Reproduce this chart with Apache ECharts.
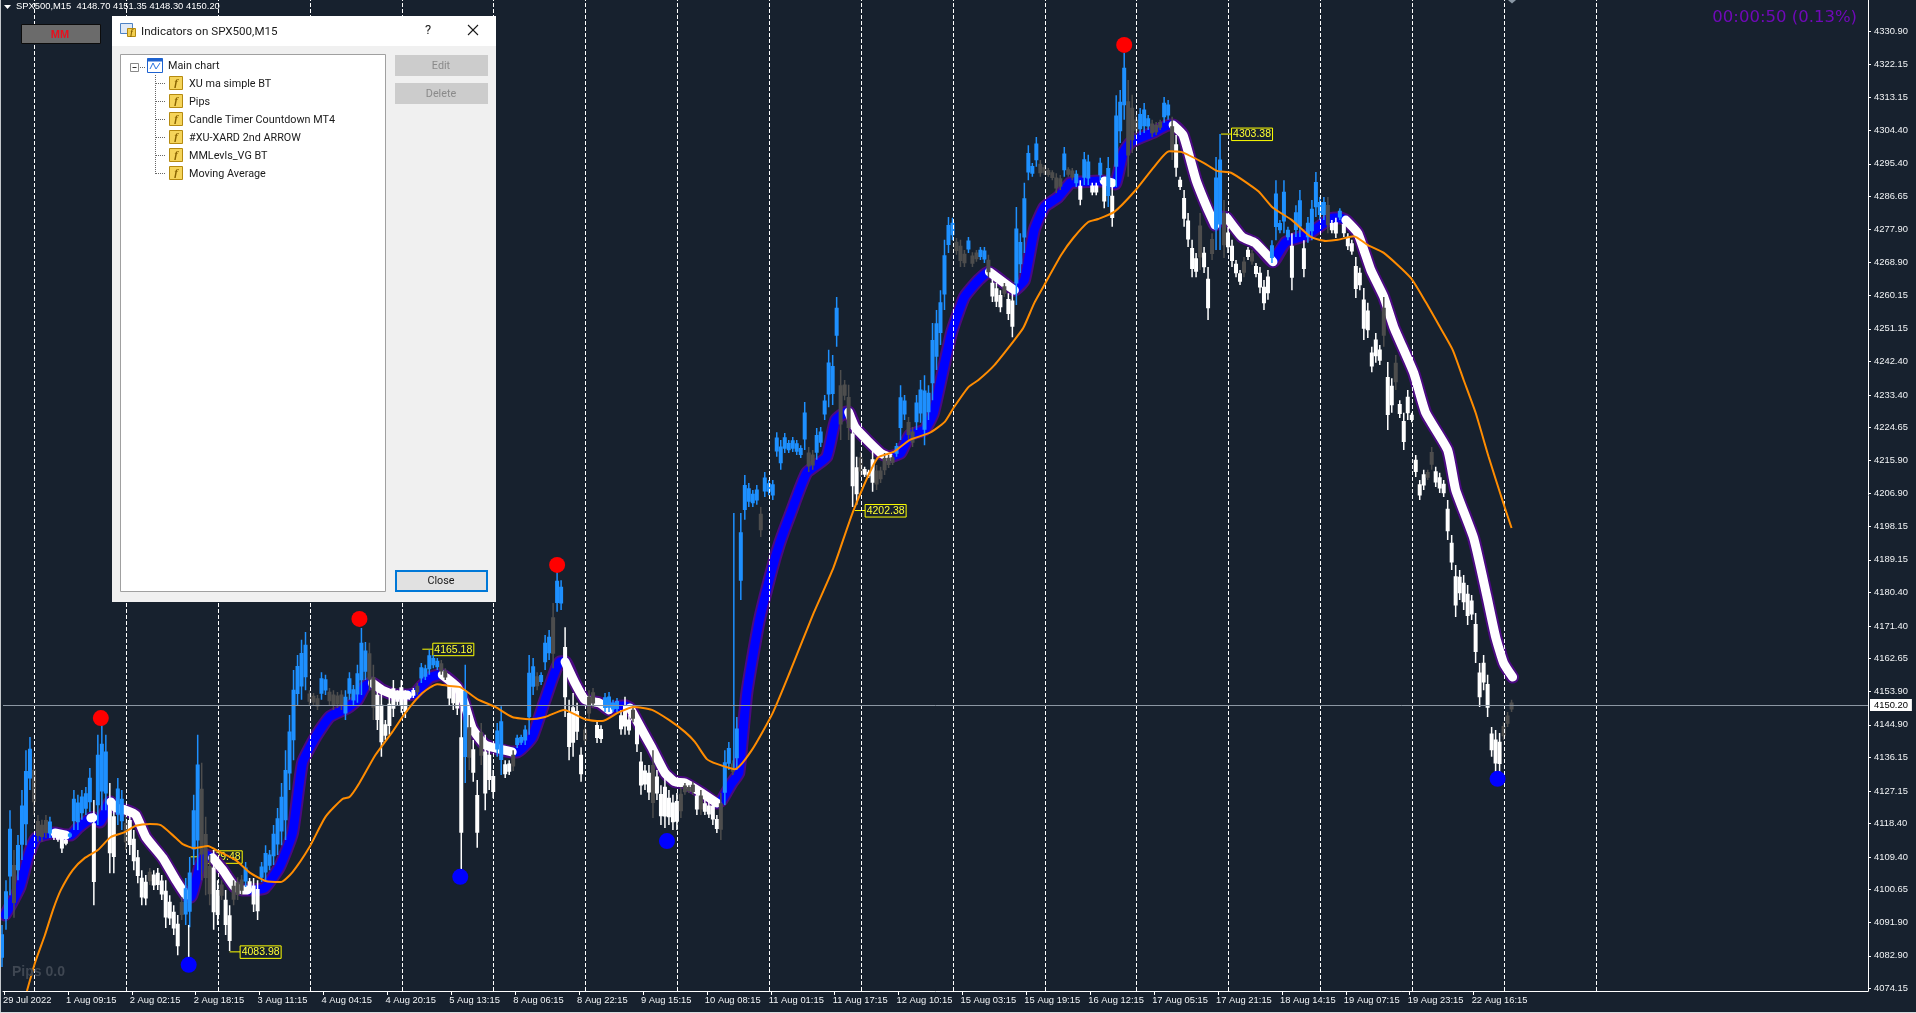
<!DOCTYPE html>
<html>
<head>
<meta charset="utf-8">
<script src="https://cdn.jsdelivr.net/npm/echarts@6/dist/echarts.min.js"></script>
<style>html,body{margin:0;padding:0;background:#17212e}#c{width:1916px;height:1013px}</style>
</head>
<body>
<div id="c"></div>
<script>
const xLabels = ['29 Jul 2022','1 Aug 09:15','2 Aug 02:15','2 Aug 18:15','3 Aug 11:15','4 Aug 04:15','4 Aug 20:15','5 Aug 13:15','8 Aug 06:15','8 Aug 22:15','9 Aug 15:15','10 Aug 08:15','11 Aug 01:15','11 Aug 17:15','12 Aug 10:15','15 Aug 03:15','15 Aug 19:15','16 Aug 12:15','17 Aug 05:15','17 Aug 21:15','18 Aug 14:15','19 Aug 07:15','19 Aug 23:15','22 Aug 16:15'];
const yTicks = [4330.90,4322.15,4313.15,4304.40,4295.40,4286.65,4277.90,4268.90,4260.15,4251.15,4242.40,4233.40,4224.65,4215.90,4206.90,4198.15,4189.15,4180.40,4171.40,4162.65,4153.90,4144.90,4136.15,4127.15,4118.40,4109.40,4100.65,4091.90,4082.90,4074.15];
const lastPrice = 4150.20;
const separatorBars = [31.5,123.5,215.5,307.5,399.5,491.5,583.5,675.5,767.5,859.5,951.5,1043.5,1135.5,1227.5,1319.5,1411.5,1503.5,1595.5];

const candleTone = ['bbbgbbbbgg','ggbwwwwbbb','bbbwbbbwwb','bgwwwwwgww','wwwwwgbbbb','gggwwgwwgg','gbwwwbbbbb','bbbbbbbggg','bbggggbbbb','bbggwwwwww','wwwwgbbbbb','ggwwwwbgww','gwwwbbwwgb','bbbbgbbbgb','bwwwwwgggw','wbbbbwwwgw','wwwgwwwwww','ggggwgwwww','gbbgbbbbbb','gbbbbbbbbb','bbggbbbbbb','gggwwgwwwg','ggggbbbggb','bbbbbbbbbg','ggbggbbgww','wgwwbbbbbb','ggggggbggb','wbbwwbwbwb','bbgggbbbgg','gbbgwwwwww','gwwgbbgwww','wgwgwwwwbb','bbbwbbwbbb','bbgwwbwwww','wwwwwwgwwg','wwwwwwwggw','wwwwwwwwww','wwwwwwggg'].join('');
const candleHigh = [
4091.2,4103.2,4122.0,4111.3,4115.3,4127.4,4138.1,4141.6,4136.3,4120.7,
4119.4,4120.7,4120.2,4116.7,4116.1,4115.9,4114.5,4116.1,4127.4,4126.1,
4127.4,4128.2,4133.3,4124.7,4142.2,4144.8,4142.2,4129.3,4124.7,4130.6,
4127.4,4120.7,4122.0,4116.7,4111.3,4105.9,4104.6,4106.5,4105.9,4106.5,
4104.6,4103.2,4099.2,4096.5,4093.9,4098.7,4103.8,4109.4,4126.1,4142.2,
4134.7,4120.2,4110.0,4111.3,4103.2,4103.2,4100.6,4096.5,4103.2,4104.0,
4104.6,4108.1,4103.8,4103.8,4103.2,4108.1,4112.6,4111.3,4118.0,4122.6,
4129.3,4138.1,4147.5,4159.6,4163.6,4167.7,4169.8,4154.2,4153.4,4152.9,
4159.0,4158.3,4154.8,4154.2,4153.7,4154.2,4154.2,4159.0,4155.6,4161.0,
4170.9,4167.1,4166.9,4161.0,4155.6,4154.2,4146.2,4152.9,4156.9,4154.2,
4156.9,4154.2,4153.7,4154.8,4156.1,4161.5,4161.0,4165.0,4163.6,4162.8,
4162.3,4160.1,4158.3,4156.9,4155.6,4151.6,4161.0,4147.5,4140.8,4130.1,
4145.4,4142.2,4139.5,4132.8,4145.4,4149.9,4135.4,4135.4,4138.1,4142.2,
4142.2,4144.8,4163.6,4162.8,4159.0,4159.0,4169.0,4170.3,4177.6,4185.9,
4183.7,4171.1,4151.6,4153.4,4150.8,4138.9,4144.8,4154.2,4154.8,4146.2,
4144.8,4153.4,4153.7,4151.6,4152.1,4148.9,4152.4,4147.5,4149.9,4147.0,
4137.6,4134.1,4134.1,4138.1,4132.8,4128.7,4131.4,4127.4,4126.1,4126.6,
4128.2,4129.3,4128.7,4129.6,4127.4,4127.4,4124.7,4124.2,4124.7,4120.7,
4126.6,4138.1,4140.3,4135.4,4147.0,4201.7,4211.9,4209.8,4207.9,4209.2,
4203.3,4212.7,4210.6,4210.6,4223.4,4221.3,4223.2,4221.3,4222.1,4221.3,
4219.9,4231.5,4219.4,4218.6,4224.5,4224.8,4233.4,4245.5,4244.1,4259.7,
4240.1,4237.4,4236.1,4228.6,4216.8,4218.1,4214.1,4213.3,4218.6,4214.6,
4214.1,4217.8,4217.3,4217.3,4220.5,4236.0,4233.4,4227.5,4224.8,4233.4,
4237.4,4238.7,4236.0,4252.7,4256.2,4261.5,4275.0,4281.1,4280.9,4275.5,
4275.0,4272.3,4275.8,4271.7,4272.3,4273.1,4273.1,4271.0,4265.0,4263.4,
4261.5,4263.4,4260.7,4261.5,4283.8,4276.8,4290.3,4300.4,4295.6,4302.6,
4296.4,4295.1,4294.3,4293.7,4292.9,4292.4,4299.9,4294.5,4294.3,4293.7,
4291.0,4298.6,4297.8,4290.3,4290.3,4297.0,4291.6,4297.2,4289.2,4313.8,
4315.2,4325.1,4317.9,4313.9,4308.5,4310.4,4311.7,4308.5,4307.2,4306.6,
4307.2,4313.3,4312.5,4308.0,4303.1,4291.9,4288.4,4282.2,4275.0,4271.5,
4282.2,4273.1,4267.7,4276.8,4297.2,4303.4,4285.7,4278.5,4275.0,4269.6,
4266.9,4270.4,4273.1,4272.3,4268.8,4267.7,4264.2,4266.9,4274.9,4291.0,
4280.3,4291.0,4278.5,4276.8,4284.3,4288.4,4274.9,4281.1,4285.7,4293.2,
4286.5,4286.5,4286.5,4280.3,4280.9,4283.5,4280.3,4276.8,4275.0,4270.4,
4267.5,4262.1,4258.1,4246.3,4250.0,4246.8,4259.7,4242.2,4237.9,4244.1,
4232.0,4228.6,4234.7,4228.6,4217.3,4210.6,4213.3,4213.3,4219.4,4214.1,
4212.5,4210.6,4205.2,4195.8,4187.8,4186.4,4185.1,4182.4,4179.7,4174.9,
4161.5,4163.6,4158.3,4144.3,4143.5,4142.7,4145.6,4148.3,4151.6];
const candleLow = [
4079.9,4089.9,4099.2,4093.1,4103.2,4108.6,4112.6,4127.4,4120.7,4113.5,
4113.5,4114.5,4114.5,4114.0,4113.5,4110.5,4112.6,4114.5,4116.7,4116.7,
4119.4,4120.7,4121.5,4096.5,4118.0,4122.0,4122.0,4105.1,4105.1,4118.0,
4116.7,4111.3,4110.0,4105.9,4102.4,4096.5,4096.5,4101.9,4100.6,4100.6,
4097.9,4090.4,4091.2,4088.5,4083.1,4092.5,4091.2,4090.6,4107.3,4105.9,
4103.2,4099.2,4096.5,4089.9,4091.2,4097.9,4088.5,4084.2,4096.5,4097.9,
4099.2,4101.4,4099.8,4094.7,4092.5,4102.7,4103.2,4105.9,4107.3,4110.0,
4112.6,4114.0,4127.4,4135.4,4150.2,4151.6,4154.2,4150.2,4150.2,4148.9,
4151.6,4152.9,4150.2,4148.9,4149.4,4148.9,4146.2,4151.6,4150.2,4150.8,
4152.9,4156.9,4154.2,4146.2,4143.5,4136.3,4140.8,4142.2,4147.0,4150.2,
4148.1,4146.7,4151.6,4152.1,4152.9,4156.1,4156.9,4158.3,4160.1,4159.6,
4158.3,4156.9,4150.2,4148.9,4147.5,4105.9,4129.3,4132.8,4129.6,4111.9,
4134.1,4122.0,4127.4,4125.2,4136.3,4131.4,4130.6,4131.4,4132.5,4138.7,
4139.5,4139.5,4142.2,4152.9,4154.2,4155.6,4159.6,4162.3,4160.1,4175.2,
4175.7,4147.0,4135.4,4136.3,4140.8,4129.6,4139.5,4146.2,4149.4,4140.0,
4140.0,4148.3,4148.3,4148.3,4148.3,4142.2,4142.2,4142.2,4145.6,4137.6,
4126.1,4127.4,4124.7,4119.9,4124.7,4118.0,4117.2,4118.0,4116.7,4116.7,
4119.9,4126.1,4126.6,4126.1,4120.7,4120.7,4120.7,4119.9,4118.0,4115.9,
4114.0,4123.4,4132.8,4131.4,4132.8,4178.4,4199.9,4203.3,4203.3,4203.9,
4195.3,4206.0,4206.5,4205.2,4216.8,4213.3,4217.8,4217.8,4218.1,4217.3,
4216.5,4218.6,4212.7,4213.3,4216.0,4219.4,4226.7,4230.1,4230.7,4246.3,
4221.3,4232.0,4221.3,4203.3,4203.9,4211.4,4211.4,4211.1,4207.4,4207.9,
4209.8,4211.9,4213.8,4214.6,4216.8,4221.3,4226.7,4221.3,4219.4,4224.0,
4225.9,4219.9,4226.7,4232.0,4240.1,4246.8,4256.2,4271.5,4274.9,4271.0,
4267.7,4267.7,4271.5,4267.7,4269.1,4269.6,4268.8,4265.0,4258.3,4257.0,
4255.6,4259.7,4253.5,4248.9,4257.5,4266.1,4271.5,4291.0,4291.9,4294.6,
4291.9,4292.4,4291.9,4291.0,4287.6,4288.4,4291.9,4291.9,4291.0,4289.2,
4284.3,4289.7,4289.7,4287.0,4287.0,4291.0,4283.5,4283.8,4278.5,4289.2,
4301.0,4307.2,4291.9,4298.3,4303.1,4303.1,4303.7,4304.5,4302.6,4303.1,
4304.5,4306.4,4307.2,4296.4,4291.9,4288.4,4278.5,4273.1,4265.0,4265.0,
4266.9,4266.1,4253.5,4269.6,4272.3,4272.3,4270.1,4271.5,4267.7,4265.0,
4262.9,4265.0,4269.6,4268.3,4265.0,4260.7,4256.2,4258.9,4268.8,4274.9,
4276.8,4276.8,4274.9,4261.5,4275.8,4275.8,4265.0,4274.2,4274.9,4281.1,
4280.3,4280.3,4276.8,4276.8,4275.5,4280.3,4275.8,4272.3,4271.0,4259.4,
4261.5,4248.1,4248.7,4239.5,4242.0,4241.4,4246.3,4224.0,4228.6,4234.7,
4227.2,4218.6,4226.7,4226.1,4211.4,4205.2,4207.9,4210.6,4213.3,4208.7,
4207.1,4206.0,4194.5,4186.4,4173.8,4178.4,4175.7,4171.7,4173.0,4161.5,
4149.7,4154.2,4147.0,4136.3,4132.0,4132.0,4140.8,4144.3,4148.3];
const spikeBars = [186,732];
const spikeHigh = [4091.2,4201.7];
const spikeLow = [4080.5,4133.3];
const spikeTone = 'wb';

const fastBars = [2,5,17,25,33,50,52,63,68,75,88,90,97,107,108,113,123,133,143,160,173,183,188,197,203,210,220,232,240,245,248,262,277,290,300,313,327,345,355,362,368,370,380,393,405,413,427,437,440,455,462,470,483,510,515,530,543,558,563,573,583,597,607,610,623,628,640,650,663,673,683,700,715,720,730,737,745,757,770,778,789,805,825,834,845,847,854,879,887,899,908,923,932,950,963,977,987,988,1003,1013,1023,1033,1043,1057,1069,1078,1100,1103,1111,1114,1122,1130,1151,1168,1172,1182,1195,1207,1214,1220,1226,1241,1254,1272,1285,1306,1318,1329,1339,1345,1357,1370,1383,1393,1413,1425,1447,1455,1473,1486,1495,1503,1512];
const fastPrice = [4093.9,4095.2,4101.4,4109.4,4114.5,4115.9,4115.9,4115.3,4115.3,4117.2,4119.9,4120.0,4118.8,4124.2,4124.2,4122.6,4122.0,4120.7,4114.8,4109.2,4103.3,4099.2,4098.7,4106.8,4110.0,4109.2,4106.0,4101.4,4100.6,4100.6,4100.6,4101.1,4106.8,4115.9,4134.7,4141.6,4147.0,4149.4,4151.6,4155.0,4156.1,4156.1,4154.2,4152.9,4152.9,4153.4,4157.5,4158.3,4158.3,4155.0,4150.8,4144.0,4139.5,4137.6,4137.6,4141.6,4151.6,4161.8,4161.8,4156.1,4151.6,4150.8,4148.9,4149.4,4150.0,4149.4,4143.5,4138.7,4132.0,4129.6,4129.3,4126.6,4123.9,4124.7,4129.3,4132.0,4153.4,4172.2,4186.4,4193.7,4201.7,4212.5,4216.8,4226.7,4228.8,4228.8,4224.5,4217.8,4216.8,4217.8,4222.6,4224.0,4228.6,4250.0,4259.7,4264.2,4266.4,4266.4,4263.4,4261.5,4264.2,4277.7,4283.8,4286.5,4290.3,4290.5,4290.8,4290.8,4290.3,4290.0,4298.3,4301.3,4303.7,4305.8,4305.8,4303.1,4291.0,4283.0,4279.0,4281.1,4280.9,4275.8,4274.2,4269.1,4274.4,4276.3,4278.5,4280.6,4280.9,4280.3,4276.8,4266.9,4259.7,4251.6,4239.3,4228.6,4218.6,4207.9,4195.0,4179.7,4168.5,4161.5,4157.7];
const fastWhiteRuns = [[52,63],[88,90],[108,183],[210,245],[370,405],[440,510],[563,607],[628,715],[847,887],[988,1013],[1103,1111],[1172,1214],[1226,1272],[1345,1512]];

const slowBars = [24,32,42,50,58,70,82,95,108,122,133,147,158,170,180,192,205,217,233,248,263,278,290,307,323,340,347,357,373,390,403,420,435,447,458,475,493,510,527,543,562,583,600,617,632,650,667,683,693,705,715,733,750,771,789,812,832,852,876,892,908,928,943,952,967,977,993,1013,1022,1033,1043,1060,1072,1087,1097,1113,1133,1153,1168,1180,1203,1216,1230,1249,1258,1272,1291,1310,1325,1337,1353,1367,1383,1410,1425,1438,1452,1463,1475,1488,1501,1511];
const slowPrice = [4073.5,4081.0,4088.5,4095.2,4100.6,4106.0,4109.2,4111.3,4114.8,4116.1,4117.8,4118.3,4118.0,4115.3,4112.9,4111.8,4112.4,4110.8,4108.6,4105.1,4103.0,4102.7,4105.4,4112.1,4120.2,4125.0,4125.5,4129.3,4136.8,4143.0,4148.1,4153.4,4155.8,4155.3,4155.0,4151.8,4149.7,4147.0,4146.4,4147.0,4148.9,4146.4,4145.9,4148.3,4149.7,4148.9,4146.2,4143.0,4140.3,4135.7,4134.4,4133.0,4138.1,4148.1,4159.6,4174.9,4187.2,4202.5,4216.5,4218.1,4221.3,4223.2,4226.1,4229.9,4235.5,4237.4,4241.4,4248.1,4251.4,4258.1,4262.9,4271.0,4275.5,4279.8,4280.6,4282.5,4287.9,4294.6,4298.8,4298.6,4295.6,4293.5,4293.0,4289.7,4287.9,4283.6,4280.3,4275.8,4274.7,4275.0,4276.0,4273.6,4271.5,4264.8,4258.3,4252.2,4245.5,4237.4,4228.6,4216.8,4205.8,4197.7];

const peakBars = [98,357,555,1123];
const peakPrices = [4146.7,4173.3,4187.8,4327.3];
const troughBars = [186,458,665,1497];
const troughPrices = [4080.5,4104.1,4113.7,4130.4];
const levelBars = [188,227,420,853,1220];
const levelPrices = [4109.48,4083.98,4165.18,4202.38,4303.38];

const indicatorNames = ['XU ma simple BT','Pips','Candle Timer Countdown MT4','#XU-XARD 2nd ARROW','MMLevls_VG BT','Moving Average'];

const BG = '#17212e', UI = '"Roboto","Noto Sans",sans-serif', AX = '"Liberation Sans",sans-serif';
const toneColor = {b:'#1e90ff', w:'#ffffff', g:'#4d4d4d'};
const isWhite = b => fastWhiteRuns.some(r => b >= r[0] && b <= r[1]);
const whiteBand = () => fastBars.map((b,i)=>[b, isWhite(b) ? fastPrice[i] : '-']);
const blueBand = () => fastBars.map((b,i)=>{
  const on = !isWhite(b) || (i>0 && !isWhite(fastBars[i-1])) || (i<fastBars.length-1 && !isWhite(fastBars[i+1]));
  return [b, on ? fastPrice[i] : '-'];
});
const zip = (a,b) => a.map((v,i)=>[v,b[i]]);
const candleData = candleHigh.map((h,i)=>[i*4-1, h, candleLow[i], 'bwg'.indexOf(candleTone[i]), 4]);
spikeBars.forEach((b,i)=>candleData.push([b, spikeHigh[i], spikeLow[i], 'bwg'.indexOf(spikeTone[i]), 1.5]));

function renderCandle(params, api){
  const top = api.coord([api.value(0), api.value(1)]);
  const bot = api.coord([api.value(0), api.value(2)]);
  const x = top[0], w = api.value(4)/2, h = Math.max(1,bot[1]-top[1]), a = top[1], b = a+h, t = Math.min(.75,w);
  const b1 = a+h*.22, b2 = b-h*.22;
  return {type:'polygon', shape:{points:[[x-t,a],[x+t,a],[x+t,b1],[x+w,b1],[x+w,b2],[x+t,b2],[x+t,b],[x-t,b],[x-t,b2],[x-w,b2],[x-w,b1],[x-t,b1]]},
    style:{fill:toneColor['bwg'[api.value(3)]]}};
}
function renderLevel(params, api){
  const p = api.coord([api.value(0), api.value(1)]);
  const box = 10.5;
  return {type:'group', children:[
    {type:'line', shape:{x1:p[0], y1:p[1], x2:p[0]+box, y2:p[1]}, style:{stroke:'#ffff00', lineWidth:1}},
    {type:'rect', shape:{x:p[0]+box, y:p[1]-6, width:41, height:12.5}, style:{fill:BG, stroke:'#ffff00', lineWidth:1}},
    {type:'text', style:{x:p[0]+box+20.5, y:p[1]+0.5, text:api.value(1).toFixed(2), fill:'#ffff33', font:'10.5px '+AX, textAlign:'center', textVerticalAlign:'middle'}}
  ]};
}

// dialog and chrome
const g = [];
const txt = (x,y,text,font,fill,align) => g.push({type:'text', z:100, style:{x,y,text,font,fill,textAlign:align||'left',textVerticalAlign:'middle'}, silent:true});
const rect = (x,y,w,h,fill,stroke,lw) => g.push({type:'rect', z:100, shape:{x,y,width:w,height:h}, style:{fill:fill||'none',stroke:stroke||'none',lineWidth:lw||1}, silent:true});
const seg = (x1,y1,x2,y2,stroke,dash,lw) => g.push({type:'line', z:100, shape:{x1,y1,x2,y2}, style:{stroke,lineWidth:lw||1,lineDash:dash||null}, silent:true});
rect(0,0,1,1013,'#c4c8cc');
rect(0,1012,1916,1,'#d8dce0');
g.push({type:'polygon', z:100, shape:{points:[[4,5],[11,5],[7.5,9]]}, style:{fill:'#fff'}, silent:true});
txt(16,6.5,'SPX500,M15  4148.70 4151.35 4148.30 4150.20','9.4px '+AX,'#ffffff');
rect(21.5,24.5,79,19,'#6b6b6b','#0c0c0c',1);
txt(60,34.5,'MM','bold 11px '+AX,'#e8101e','center');
txt(12,972,'Pips 0.0','bold 14px "Liberation Sans",sans-serif','#3f4752');
txt(1857,18,'00:00:50 (0.13%)','16.5px "DejaVu Sans",sans-serif','#7009b8','right');
g.push({type:'polygon', z:100, shape:{points:[[1508,0],[1516,0],[1512,3.5]]}, style:{fill:'#8a97a5'}, silent:true});
// window
rect(112,16,384,586,'#f0f0f0');
rect(112,16,384,30,'#ffffff');
txt(141,32,'Indicators on SPX500,M15','11.6px '+UI,'#1a1a1a');
rect(120.5,23.5,12,10,'#dfe9f7','#4d82c4');
rect(127.5,28.5,8,8,'#f3cf50','#b58a10');
txt(131.5,33,'f','italic bold 8px serif','#8a6400','center');
txt(428,31,'?','13px '+UI,'#1a1a1a','center');
seg(468,25,478,35,'#1a1a1a',null,1.1);
seg(478,25,468,35,'#1a1a1a',null,1.1);
rect(120.5,54.5,265,537,'#ffffff','#a0a0a0');
rect(395,55,93,21,'#cccccc');
txt(441,66.5,'Edit','10.8px '+UI,'#8a8a8a','center');
rect(395,83,93,21,'#cccccc');
txt(441,94.5,'Delete','10.8px '+UI,'#8a8a8a','center');
rect(396,571,91,20,'#e1e1e1','#0078d7',2);
txt(441,581.5,'Close','10.8px '+UI,'#1a1a1a','center');
rect(130.5,63.5,8,8,'#ffffff','#8a8a8a');
seg(132.5,67.5,136.5,67.5,'#333');
seg(140,67.5,146,67.5,'#666',[1,1]);
rect(147.5,58.5,15,14,'#ffffff','#1d62d0');
rect(147.5,58.5,15,3,'#1d62d0');
seg(150,69,153,63,'#2a74e0');seg(153,63,156,69,'#2a74e0');seg(156,69,160,63,'#2a74e0');
txt(168,66,'Main chart','10.8px '+UI,'#1a1a1a');
seg(155.5,75,155.5,174.5,'#666',[1,1]);
indicatorNames.forEach((n,i)=>{
  const y = 83 + i*18;
  seg(156,y+.5,166,y+.5,'#666',[1,1]);
  rect(169.5,y-6.5,13,13,'#f5d45a','#b58a10');
  txt(176,y,'f','italic bold 11px serif','#8a6400','center');
  txt(189,y+1,n,'10.8px '+UI,'#1a1a1a');
});

const chart = echarts.init(document.getElementById('c'), null, {renderer:'canvas'});
chart.setOption({
  animation:false,
  backgroundColor:BG,
  grid:{left:0, top:0, width:1868, height:991},
  graphic:g,
  xAxis:{type:'value', min:0, max:1868, splitLine:{show:false},
    axisLine:{show:true, onZero:false, lineStyle:{color:'#ffffff', width:1}},
    axisTick:{show:true, length:4, lineStyle:{color:'#ffffff'}, customValues:xLabels.map((l,i)=>1+i*64)},
    axisLabel:{show:true, color:'#f2f4f6', fontFamily:AX, fontSize:9.4, align:'left', margin:5, showMinLabel:true, showMaxLabel:true, customValues:xLabels.map((l,i)=>i?i*64-1:0),
      formatter:v=>xLabels[Math.round(v/64)]}},
  yAxis:{type:'value', position:'right', min:4073.48, max:4339.35, splitLine:{show:false},
    axisLine:{show:true, onZero:false, lineStyle:{color:'#ffffff', width:1}},
    axisTick:{show:true, length:3, lineStyle:{color:'#ffffff'}, customValues:yTicks},
    axisLabel:{show:true, color:'#f2f4f6', fontFamily:AX, fontSize:9.4, margin:6, showMinLabel:true, showMaxLabel:true, customValues:yTicks, formatter:v=>v.toFixed(2)}},
  series:[
    {type:'line', name:'guides', z:1, silent:true, symbol:'none', data:[], markLine:{silent:true, symbol:'none', animation:false,
      data:separatorBars.map(b=>({xAxis:b, label:{show:false}, lineStyle:{color:'#ffffff', type:[4,2], width:1}})).concat([
        {yAxis:lastPrice, lineStyle:{color:'#8c97a3', type:'solid', width:1},
         label:{show:true, position:'end', distance:2, formatter:lastPrice.toFixed(2), color:'#000', backgroundColor:'#fff', fontFamily:AX, fontSize:9.4, padding:[2,4,1,4]}}])}},
    {type:'custom', name:'levels', z:2, silent:true, renderItem:renderLevel, data:zip(levelBars,levelPrices), encode:{x:0,y:1}},
    {type:'line', name:'band edge', z:3, silent:true, symbol:'none', smooth:0.15, data:zip(fastBars,fastPrice), lineStyle:{color:'#4b0a82', width:13, cap:'round', join:'round'}},
    {type:'line', name:'band up', z:3, silent:true, symbol:'none', smooth:0.15, data:blueBand(), lineStyle:{color:'#0000ff', width:9, cap:'round', join:'round'}},
    {type:'line', name:'band down', z:3, silent:true, symbol:'none', smooth:0.15, data:whiteBand(), lineStyle:{color:'#ffffff', width:9, cap:'round', join:'round'}},
    {type:'custom', name:'candles', z:4, silent:true, renderItem:renderCandle, data:candleData, encode:{x:0,y:[1,2]}},
    {type:'line', name:'moving average', z:5, silent:true, symbol:'none', smooth:0.2, data:zip(slowBars,slowPrice), lineStyle:{color:'#ff8c00', width:2}},
    {type:'scatter', name:'peaks', z:6, silent:true, symbol:'circle', symbolSize:16, data:zip(peakBars,peakPrices), itemStyle:{color:'#ff0000', opacity:1}},
    {type:'scatter', name:'troughs', z:6, silent:true, symbol:'circle', symbolSize:16, data:zip(troughBars,troughPrices), itemStyle:{color:'#0000ff', opacity:1}}
  ]
});
</script>
</body>
</html>
